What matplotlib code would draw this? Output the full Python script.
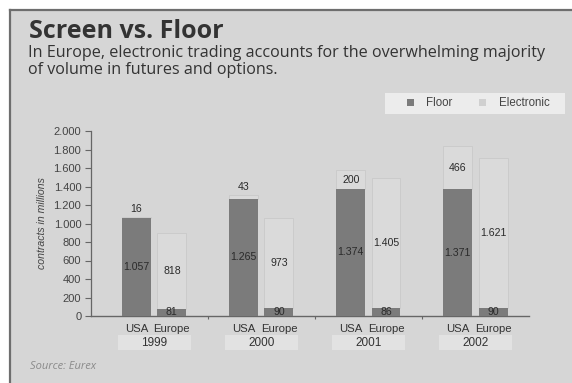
import matplotlib
matplotlib.use("Agg")
import matplotlib.pyplot as plt
import matplotlib.patches as mpatches
import matplotlib.lines as mlines
import numpy as np

# ── Data (contracts in millions) ──────────────────────────────────────────────
YEARS = ["1999", "2000", "2001", "2002"]
REGIONS = ["USA", "Europe"]
USA_FLOOR = [1057, 1265, 1374, 1371]
USA_ELEC = [16, 43, 200, 466]
EU_FLOOR = [81, 90, 86, 90]
EU_ELEC = [818, 973, 1405, 1621]

# ── Style ────────────────────────────────────────────────────────────────────
BG = "#d6d6d6"
FLOOR_C = "#7b7b7b"
ELEC_C = "#dadada"
ELEC_EDGE = "#c9c9c9"
TEXT_C = "#2a2a2a"
SANS = ["Liberation Sans", "DejaVu Sans"]
HUMAN = ["Open Sans", "DejaVu Sans"]

W, H = 572, 383
fig = plt.figure(figsize=(W / 100, H / 100), dpi=100)
fig.patch.set_facecolor("white")

# gray panel with frame on left and top
fig.patches.append(mpatches.Rectangle((10 / W, 0), 1, 1 - 10 / H, transform=fig.transFigure,
                                      facecolor=BG, edgecolor="none", zorder=-5))
fig.lines.append(mlines.Line2D([10 / W, 10 / W], [0, 1 - 10 / H], transform=fig.transFigure,
                               color="#6e6e6e", lw=1.6))
fig.lines.append(mlines.Line2D([10 / W, 1], [1 - 10 / H, 1 - 10 / H], transform=fig.transFigure,
                               color="#6e6e6e", lw=1.6))

ax = fig.add_axes([91 / W, 1 - 316 / H, (529 - 91) / W, (316 - 131) / H])
ax.set_facecolor("none")

x = np.arange(len(YEARS))
off = 0.165
bw = 0.27
xu = x - off
xe = x + off

ax.bar(xu, USA_FLOOR, bw, color=FLOOR_C, edgecolor="none", zorder=3)
ax.bar(xu, USA_ELEC, bw, bottom=USA_FLOOR, color=ELEC_C, edgecolor=ELEC_EDGE, lw=0.6, zorder=2)
ax.bar(xe, EU_FLOOR, bw, color=FLOOR_C, edgecolor="none", zorder=3)
ax.bar(xe, EU_ELEC, bw, bottom=EU_FLOOR, color=ELEC_C, edgecolor=ELEC_EDGE, lw=0.6, zorder=2)


def fmt(v):
    return f"{v:,}".replace(",", ".")


lab_kw = dict(ha="center", fontsize=7.6, color=TEXT_C, family=SANS, zorder=5)
for xs, fl, el in [(xu, USA_FLOOR, USA_ELEC), (xe, EU_FLOOR, EU_ELEC)]:
    for xi, f, e in zip(xs, fl, el):
        ax.text(xi, f / 2, fmt(f), va="center", **lab_kw)
        if e < 100:
            ax.annotate(fmt(e), (xi, f + e), xytext=(0, 2), textcoords="offset points",
                        va="bottom", **lab_kw)
        else:
            ax.text(xi, f + e / 2, fmt(e), va="center", **lab_kw)

# axes styling
ax.set_xlim(-0.59, 3.5)
ax.set_ylim(0, 2000)
ax.set_yticks(np.arange(0, 2001, 200))
ax.set_yticklabels([fmt(v) for v in range(0, 2001, 200)], family=SANS, fontsize=8, color="#444444")
ax.tick_params(axis="y", direction="out", length=4, width=0.8, color="#666666", pad=3)
ax.spines[["top", "right"]].set_visible(False)
ax.spines["left"].set_color("#666666")
ax.spines["bottom"].set_color("#666666")
ax.spines["left"].set_linewidth(0.9)
ax.spines["bottom"].set_linewidth(1.0)

ax.set_xticks(np.concatenate([xu, xe]))
ax.set_xticklabels(["USA"] * 4 + ["Europe"] * 4, family=SANS, fontsize=8.2, color="#333333")
ax.tick_params(axis="x", length=0, pad=6)
ax.set_xticks(x[:-1] + 0.5, minor=True)
ax.tick_params(axis="x", which="minor", direction="out", length=2.5, width=0.8, color="#666666")

# year labels in lighter boxes
for xi, yr in zip(x, YEARS):
    ax.add_patch(mpatches.Rectangle((xi - 0.34, -0.185), 0.68, 0.082,
                                    transform=ax.get_xaxis_transform(), clip_on=False,
                                    facecolor="#e2e2e2", edgecolor="none", zorder=1))
    ax.text(xi, -0.144, yr, transform=ax.get_xaxis_transform(), ha="center", va="center",
            fontsize=8.5, color="#333333", family=SANS)

ax.set_ylabel("contracts in millions", family=SANS, style="italic", fontsize=7.6,
              color="#444444", labelpad=5)

# title / subtitle / source
fig.text(29 / W, 1 - 38.5 / H, "Screen vs. Floor", family=HUMAN, weight="bold",
         fontsize=18, color="#333333", va="baseline")
fig.text(28 / W, 1 - 57 / H, "In Europe, electronic trading accounts for the overwhelming majority",
         family=HUMAN, fontsize=11.6, color="#333333", va="baseline")
fig.text(28 / W, 1 - 74 / H, "of volume in futures and options.",
         family=HUMAN, fontsize=11.6, color="#333333", va="baseline")
fig.text(30 / W, 1 - 369 / H, "Source: Eurex", family=HUMAN, style="italic",
         fontsize=8, color="#8a8a8a", va="baseline")

# legend: light box plus frameless legend centred inside
fig.patches.append(mpatches.Rectangle((385 / W, 1 - 114 / H), 180 / W, 21 / H,
                                      transform=fig.transFigure, facecolor="#ececec",
                                      edgecolor="none", zorder=1))
handles = [mpatches.Patch(facecolor=FLOOR_C, edgecolor="none", label="Floor"),
           mpatches.Patch(facecolor="#d0d0d0", edgecolor="none", label="Electronic")]
fig.legend(handles=handles, loc="center", ncol=2, bbox_to_anchor=(478 / W, 1 - 103.5 / H),
           frameon=False, handlelength=0.6, handleheight=0.6, handletextpad=1.1,
           columnspacing=2.3, borderpad=0, prop={"family": SANS, "size": 8.3},
           labelcolor="#444444")

fig.savefig("out.png", dpi=100, facecolor="white")
